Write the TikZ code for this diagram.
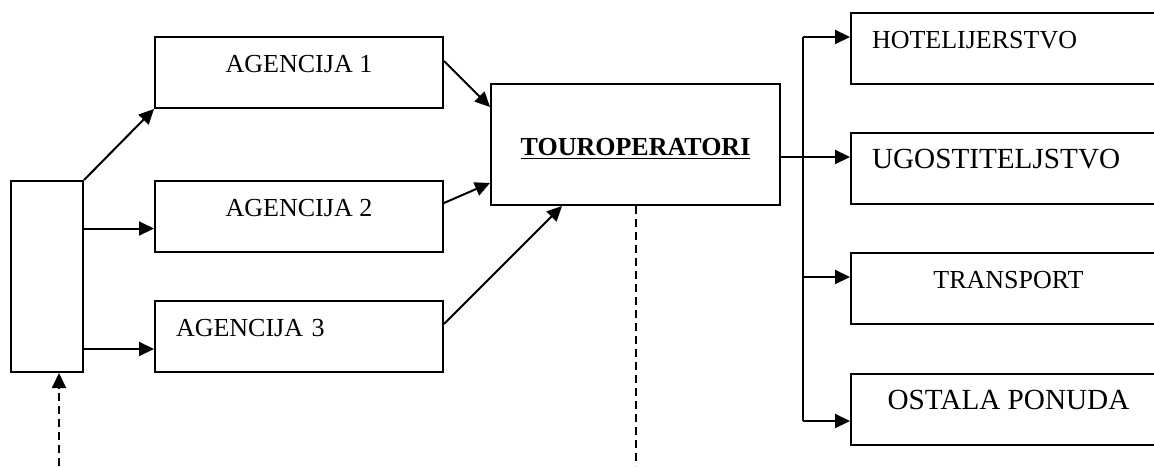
\documentclass[tikz,border=0pt]{standalone}
\usepackage{fontspec}
\setmainfont{Liberation Serif}
\usetikzlibrary{arrows.meta}

\begin{document}
\begin{tikzpicture}[x=0.5pt, y=-0.5pt, line width=1pt,
		>={Triangle[length=7.5pt,width=7pt]},
		kutija/.style={draw, rectangle, minimum width=144pt, minimum height=35.5pt,
			text height=9pt, text depth=9pt, font=\fontsize{13}{15}\selectfont},
		desno/.style={kutija, minimum width=157.5pt},
		lijevo/.style={align=left, inner xsep=10.5pt},
		veci/.style={font=\fontsize{14.6}{17}\selectfont},
		crtkano/.style={dash pattern=on 4pt off 2.5pt}]
	\clip (0,0) rectangle (1154,466);
	% izvor i agencije
	\node[kutija, minimum width=36pt, minimum height=95.5pt] (izvor) at (47,276.5) {};
	\node[kutija] (agen1) at (299,72.5) {AGENCIJA 1};
	\node[kutija] (agen2) at (299,216.5) {AGENCIJA 2};
	\node[kutija, lijevo, text width=123pt] (agen3) at (299,336.5) {AGENCIJA 3};
	\node[kutija, minimum width=144.5pt, minimum height=60.5pt, text height=12pt, text depth=1.5pt]
		(turop) at (635.5,144.5) {\underline{\textbf{TOUROPERATORI}}};
	% ponuda
	\node[desno, lijevo, text width=136.5pt] (hotel) at (1008.5,48.5) {HOTELIJERSTVO};
	\node[desno, lijevo, veci, text width=136.5pt] (ugost) at (1008.5,168.5) {UGOSTITELJSTVO};
	\node[desno] (transp) at (1008.5,288.5) {TRANSPORT};
	\node[desno, veci] (ostalo) at (1008.5,409) {OSTALA PONUDA};

	\coordinate (ul2) at ([yshift=-6pt]agen2.west);
	\coordinate (ul3) at ([yshift=-6.25pt]agen3.west);
	\draw[->] (izvor.north east) -- (agen1.south west);
	\draw[->] (izvor.east |- ul2) -- (ul2);
	\draw[->] (izvor.east |- ul3) -- (ul3);
	\draw[->] ([yshift=5.75pt]agen1.east) -- ([yshift=18.75pt]turop.west);
	\draw[->] ([yshift=6.75pt]agen2.east) -- ([yshift=11.5pt]turop.south west);
	\draw[->] ([yshift=6.25pt]agen3.east) -- ([xshift=-36.75pt]turop.south);

	\coordinate (bus) at (803,0);
	\coordinate (iz) at ([yshift=-6.25pt]turop.east);
	\coordinate (u1) at ([yshift=5.75pt]hotel.west);
	\coordinate (u3) at ([yshift=5.75pt]transp.west);
	\coordinate (u4) at ([yshift=-6pt]ostalo.west);
	\draw[->] (iz) -- (iz -| ugost.west);
	\draw (bus |- u1) -- (bus |- u4);
	\foreach \u in {u1,u3,u4}
		\draw[->] (bus |- \u) -- (\u);

	% isprekidane linije prema dnu
	\coordinate (dno) at (0,466);
	\coordinate (d1) at (59,466);
	\draw[->, crtkano] (d1) -- (d1 |- izvor.south);
	\draw[crtkano] (turop.south) -- (turop.south |- dno);
\end{tikzpicture}
\end{document}
